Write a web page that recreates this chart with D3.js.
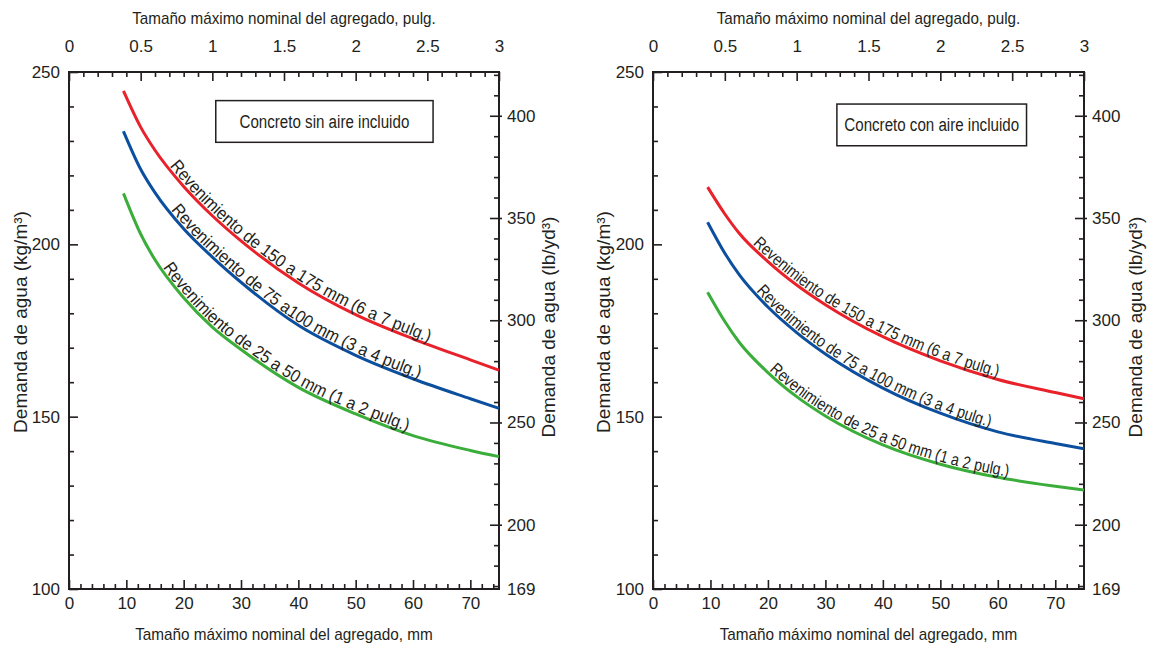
<!DOCTYPE html>
<html><head><meta charset="utf-8">
<script src="https://cdn.jsdelivr.net/npm/d3@7"></script>
<style>
body{margin:0;background:#fff}
svg{display:block}
text{font-family:"Liberation Sans",Arial,Helvetica,sans-serif;fill:#231f20}
</style>
</head><body>
<svg id="c" width="1150" height="652"></svg>
<script>
// ---- datos ----
const tamanoMm = [9.5, 12.5, 15, 20, 25, 30, 40, 50, 60, 70, 75];
const sinAire150a175 = [244.5, 234, 227.3, 216.8, 208.3, 201, 188.8, 179.6, 172.6, 166.5, 163.5];
const sinAire75a100  = [232.8, 221.8, 215, 204.5, 196.3, 189, 176.5, 167.8, 161, 155.2, 152.4];
const sinAire25a50   = [214.8, 203, 195.5, 184.5, 176, 169.5, 158.5, 150.8, 144.5, 140.2, 138.4];
const conAire150a175 = [216.6, 208.8, 203.2, 195, 188.2, 182.5, 173.2, 166.2, 160.8, 157, 155.2];
const conAire75a100  = [206.4, 197.4, 191.2, 181.8, 174.4, 168.2, 158.3, 151, 145.6, 142.2, 140.7];
const conAire25a50   = [186.1, 177.6, 171.6, 162.8, 155.8, 150.2, 141.8, 136.2, 132.4, 129.8, 128.7];
const etiquetasSinAire = ["Revenimiento de 150 a 175 mm (6 a 7 pulg.)", "Revenimiento de 75 a100 mm (3 a 4 pulg.)", "Revenimiento de 25 a 50 mm (1 a 2 pulg.)"];
const etiquetasConAire = ["Revenimiento de 150 a 175 mm (6 a 7 pulg.)", "Revenimiento de 75 a 100 mm (3 a 4 pulg.)", "Revenimiento de 25 a 50 mm (1 a 2 pulg.)"];
const titulosCaja = ["Concreto sin aire incluido", "Concreto con aire incluido"];
const mmTicks = [0, 10, 20, 30, 40, 50, 60, 70];
const pulgTicks = [0, 0.5, 1, 1.5, 2, 2.5, 3];
const kgTicks = [100, 150, 200, 250];
const lbTicks = [200, 250, 300, 350, 400];
const tituloSup = "Tamaño máximo nominal del agregado, pulg.";
const tituloInf = "Tamaño máximo nominal del agregado, mm";
const tituloKg = "Demanda de agua (kg/m³)";
const tituloLb = "Demanda de agua (lb/yd³)";
const colores = ["#e8212b", "#0b4f9e", "#3aad3a"];
const KG_A_LB = 1.6856;

// ---- dibujo ----
const svg = d3.select("#c");
const INK = "#231f20";
function condensar(sel, f) {
  sel.each(function () {
    const w = this.getComputedTextLength();
    d3.select(this).attr("textLength", w * f).attr("lengthAdjust", "spacingAndGlyphs");
  });
}
const paneles = [
  {x0: 69, x1: 499, y0: 589, y1: 72, series: [sinAire150a175, sinAire75a100, sinAire25a50],
   etiquetas: etiquetasSinAire, caja: titulosCaja[0], cajaMm: [25.6, 63.5], cajaKg: [241.7, 229.6],
   inicio: [17.2, 17.4, 16.0], fsEt: 17.5, fEt: 0.92, tIzq: 27, tDer: 555},
  {x0: 653, x1: 1084, y0: 589, y1: 72, series: [conAire150a175, conAire75a100, conAire25a50],
   etiquetas: etiquetasConAire, caja: titulosCaja[1], cajaMm: [32, 65], cajaKg: [240.7, 228.6],
   inicio: [17.0, 17.6, 19.9], fsEt: 17, fEt: 0.84, tIzq: 610, tDer: 1142}
];

paneles.forEach((p, pi) => {
  const x = d3.scaleLinear([0, 75], [p.x0, p.x1]);
  const xIn = d3.scaleLinear([0, 3], [p.x0, p.x1]);
  const y = d3.scaleLinear([100, 250], [p.y0, p.y1]);
  const yLb = d3.scaleLinear([100 * KG_A_LB, 250 * KG_A_LB], [p.y0, p.y1]);
  const g = svg.append("g");
  const fs = 17;

  function eje(axis, tx, ty) {
    const a = g.append("g").attr("transform", `translate(${tx},${ty})`).call(axis);
    a.select(".domain").remove();
    a.selectAll("line").attr("stroke", INK).attr("stroke-width", 1.6);
    a.selectAll("text").attr("font-size", fs).attr("fill", INK)
      .style("font-family", '"Liberation Sans",Arial,sans-serif');
    return a;
  }
  // inferior
  const mmMenor = d3.range(0, 76, 2).filter(v => v % 10 !== 0);
  eje(d3.axisBottom(x).tickValues(mmMenor).tickSizeInner(-5).tickFormat(""), 0, p.y0);
  eje(d3.axisBottom(x).tickValues(mmTicks).tickSizeInner(-9).tickPadding(8).tickFormat(d3.format("d")), 0, p.y0);
  // superior
  const inMenor = d3.range(1, 30).filter(v => v % 5 !== 0).map(v => v / 10);
  eje(d3.axisTop(xIn).tickValues(inMenor).tickSizeInner(-5).tickFormat(""), 0, p.y1);
  eje(d3.axisTop(xIn).tickValues(pulgTicks).tickSizeInner(-9).tickPadding(20).tickFormat(d => d3.format("")(d)), 0, p.y1);
  // izquierdo
  const kgMenor = d3.range(110, 250, 10).filter(v => v % 50 !== 0);
  eje(d3.axisLeft(y).tickValues(kgMenor).tickSizeInner(-5).tickFormat(""), p.x0, 0);
  eje(d3.axisLeft(y).tickValues(kgTicks).tickSizeInner(-9).tickPadding(9).tickFormat(d3.format("d")), p.x0, 0);
  // derecho (lb/yd3)
  const lbMenor = d3.range(170, 425, 10).filter(v => v % 50 !== 0);
  eje(d3.axisRight(yLb).tickValues(lbMenor).tickSizeInner(-5).tickFormat(""), p.x1, 0);
  const ad = eje(d3.axisRight(yLb).tickValues(lbTicks).tickSizeInner(-9).tickPadding(8).tickFormat(d3.format("d")), p.x1, 0);
  ad.selectAll("line").attr("x2", -9).attr("x1", 3);
  eje(d3.axisRight(yLb).tickValues([100 * KG_A_LB]).tickSize(0).tickPadding(8).tickFormat(d3.format(".0f")), p.x1, 0);

  // marco
  g.append("rect").attr("x", p.x0).attr("y", p.y1).attr("width", p.x1 - p.x0).attr("height", p.y0 - p.y1)
    .attr("fill", "none").attr("stroke", INK).attr("stroke-width", 2);

  // títulos de ejes
  const cx = (p.x0 + p.x1) / 2;
  condensar(g.append("text").attr("x", cx).attr("y", 24).attr("text-anchor", "middle").attr("font-size", fs).text(tituloSup), 0.895);
  condensar(g.append("text").attr("x", cx).attr("y", 640).attr("text-anchor", "middle").attr("font-size", fs).text(tituloInf), 0.9);
  const cy = 322;
  g.append("text").attr("transform", `translate(${p.tIzq},${cy}) rotate(-90)`).attr("text-anchor", "middle")
    .attr("font-size", 19).text(tituloKg);
  g.append("text").attr("transform", `translate(${p.tDer},${cy + 5}) rotate(-90)`).attr("text-anchor", "middle")
    .attr("font-size", 19).text(tituloLb);

  // caja
  const bx0 = x(p.cajaMm[0]), bx1 = x(p.cajaMm[1]), by0 = y(p.cajaKg[0]), by1 = y(p.cajaKg[1]);
  g.append("rect").attr("x", bx0).attr("y", by0).attr("width", bx1 - bx0).attr("height", by1 - by0)
    .attr("fill", "#fff").attr("stroke", INK).attr("stroke-width", 1.5);
  condensar(g.append("text").attr("x", (bx0 + bx1) / 2).attr("y", (by0 + by1) / 2).attr("dy", "0.36em")
    .attr("text-anchor", "middle").attr("font-size", 18).text(p.caja), 0.84);

  // curvas
  const linea = d3.line().x(d => x(d[0])).y(d => y(d[1])).curve(d3.curveMonotoneX);
  p.series.forEach((s, si) => {
    const datos = tamanoMm.map((m, i) => [m, s[i]]);
    const id = `curva${pi}_${si}`;
    const path = g.append("path").attr("id", id).attr("d", linea(datos))
      .attr("fill", "none").attr("stroke", colores[si]).attr("stroke-width", 3);
    const node = path.node();
    const total = node.getTotalLength();
    const tx = x(p.inicio[si]);
    let lo = 0, hi = total;
    for (let k = 0; k < 40; k++) {
      const mid = (lo + hi) / 2;
      if (node.getPointAtLength(mid).x < tx) lo = mid; else hi = mid;
    }
    const tp = g.append("text").attr("font-size", p.fsEt).attr("dy", -2.5)
      .append("textPath").attr("href", "#" + id).attr("startOffset", lo)
      .text(p.etiquetas[si]);
    condensar(tp, p.fEt);
  });
});
</script>
</body></html>
